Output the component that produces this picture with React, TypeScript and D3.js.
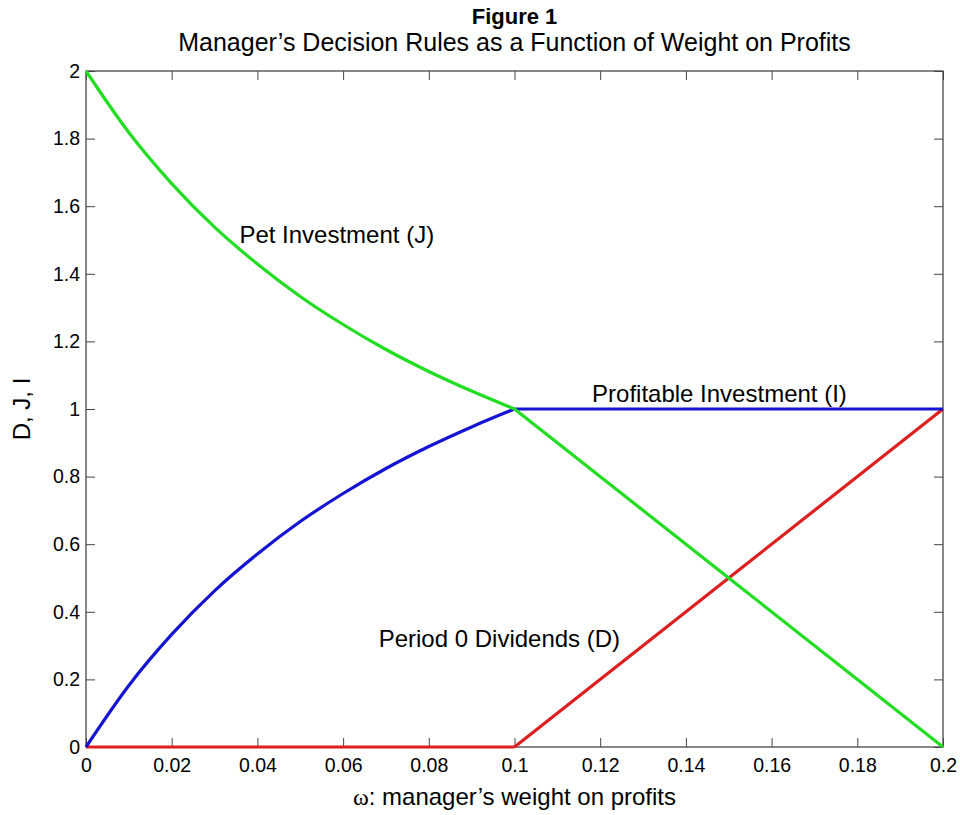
import { useEffect, useRef } from "react";
import * as d3 from "d3";

// values (omega = manager's weight on profits)
const omega = [0, 0.01, 0.02, 0.03, 0.04, 0.05, 0.06, 0.07, 0.08, 0.09, 0.1, 0.15, 0.2];
const petInvestment = [2.0, 1.818, 1.667, 1.538, 1.429, 1.333, 1.25, 1.176, 1.111, 1.053, 1.0, 0.5, 0.0];
const profitableInvestment = [0, 0.182, 0.333, 0.462, 0.571, 0.667, 0.75, 0.824, 0.889, 0.947, 1.0, 1.0, 1.0];
const dividends = [0, 0, 0, 0, 0, 0, 0, 0, 0, 0, 0, 0.5, 1.0];

const xTicks = [0, 0.02, 0.04, 0.06, 0.08, 0.1, 0.12, 0.14, 0.16, 0.18, 0.2];
const xTickLabels = ["0", "0.02", "0.04", "0.06", "0.08", "0.1", "0.12", "0.14", "0.16", "0.18", "0.2"];
const yTicks = [0, 0.2, 0.4, 0.6, 0.8, 1, 1.2, 1.4, 1.6, 1.8, 2];
const yTickLabels = ["0", "0.2", "0.4", "0.6", "0.8", "1", "1.2", "1.4", "1.6", "1.8", "2"];

const series = [
  { name: "D", values: dividends, color: "#dd1f1f" },
  { name: "I", values: profitableInvestment, color: "#1414d2" },
  { name: "J", values: petInvestment, color: "#22dd22" },
];

const labels = [
  { text: "Pet Investment (J)", x: 0.0358, y: 1.49 },
  { text: "Profitable Investment (I)", x: 0.1181, y: 1.022 },
  { text: "Period 0 Dividends (D)", x: 0.0683, y: 0.296 },
];

const W = 960;
const H = 815;
const margin = { top: 71, right: 17, bottom: 68, left: 86 };
const FONT = "'Liberation Sans', Arial, Helvetica, sans-serif";

const App = () => {
  const svgRef = useRef<SVGSVGElement | null>(null);

  useEffect(() => {
    const svg = d3.select(svgRef.current);
    svg.selectAll("*").remove();

    const x = d3.scaleLinear().domain([0, 0.2]).range([margin.left, W - margin.right]);
    const y = d3.scaleLinear().domain([0, 2]).range([H - margin.bottom, margin.top]);

    svg.append("rect").attr("width", W).attr("height", H).attr("fill", "#fff");

    // plot box
    svg
      .append("rect")
      .attr("x", x(0))
      .attr("y", y(2))
      .attr("width", x(0.2) - x(0))
      .attr("height", y(0) - y(2))
      .attr("fill", "none")
      .attr("stroke", "#111")
      .attr("stroke-width", 1);

    const styleAxis = (g) => {
      g.select(".domain").remove();
      g.selectAll(".tick line").attr("stroke", "#444");
      g.selectAll(".tick text")
        .attr("fill", "#000")
        .style("font-family", FONT)
        .style("font-size", "19.5px");
    };

    svg
      .append("g")
      .attr("transform", `translate(0,${y(0)})`)
      .call(
        d3.axisBottom(x).tickValues(xTicks).tickSize(-9).tickPadding(11)
          .tickFormat((d, i) => xTickLabels[i])
      )
      .call(styleAxis);

    svg
      .append("g")
      .attr("transform", `translate(0,${y(2)})`)
      .call(d3.axisTop(x).tickValues(xTicks).tickSize(-9).tickFormat(() => ""))
      .call(styleAxis);

    svg
      .append("g")
      .attr("transform", `translate(${x(0)},0)`)
      .call(
        d3.axisLeft(y).tickValues(yTicks).tickSize(-9).tickPadding(6)
          .tickFormat((d, i) => yTickLabels[i])
      )
      .call(styleAxis);

    svg
      .append("g")
      .attr("transform", `translate(${x(0.2)},0)`)
      .call(d3.axisRight(y).tickValues(yTicks).tickSize(-9).tickFormat(() => ""))
      .call(styleAxis);

    // lines: curved part up to 0.1, straight part after the kink
    const line = d3
      .line<[number, number]>()
      .x((d) => x(d[0]))
      .y((d) => y(d[1]))
      .curve(d3.curveMonotoneX);

    const kink = omega.indexOf(0.1);
    const gLines = svg.append("g");
    series.forEach((s) => {
      const pts: [number, number][] = omega.map((w, i) => [w, s.values[i]]);
      [pts.slice(0, kink + 1), pts.slice(kink)].forEach((seg) => {
        gLines
          .append("path")
          .attr("d", line(seg))
          .attr("fill", "none")
          .attr("stroke", s.color)
          .attr("stroke-width", 3.2)
          .attr("stroke-linejoin", "round");
      });
    });

    // annotations
    svg
      .append("g")
      .selectAll("text")
      .data(labels)
      .join("text")
      .attr("x", (d) => x(d.x))
      .attr("y", (d) => y(d.y))
      .attr("fill", "#000")
      .style("font-family", FONT)
      .style("font-size", "24px")
      .text((d) => d.text);

    // titles
    svg
      .append("text")
      .attr("x", (x(0) + x(0.2)) / 2)
      .attr("y", 24)
      .attr("text-anchor", "middle")
      .style("font-family", FONT)
      .style("font-size", "22px")
      .style("font-weight", "bold")
      .text("Figure 1");

    svg
      .append("text")
      .attr("x", (x(0) + x(0.2)) / 2)
      .attr("y", 51)
      .attr("text-anchor", "middle")
      .style("font-family", FONT)
      .style("font-size", "25px")
      .text("Manager\u2019s Decision Rules as a Function of Weight on Profits");

    // x axis label
    const xl = svg
      .append("text")
      .attr("x", (x(0) + x(0.2)) / 2)
      .attr("y", 805)
      .attr("text-anchor", "middle")
      .style("font-family", FONT)
      .style("font-size", "24px");
    xl.append("tspan").style("font-family", "'Liberation Serif', 'Times New Roman', serif").text("\u03c9");
    xl.append("tspan").text(": manager\u2019s weight on profits");

    // y axis label
    svg
      .append("text")
      .attr("transform", `translate(30,${(y(0) + y(2)) / 2}) rotate(-90)`)
      .attr("text-anchor", "middle")
      .style("font-family", FONT)
      .style("font-size", "24px")
      .text("D, J, I");
  }, []);

  return (
    <svg
      ref={svgRef}
      width={W}
      height={H}
      style={{ position: "absolute", left: 0, top: 0, display: "block" }}
    />
  );
};

export default App;
